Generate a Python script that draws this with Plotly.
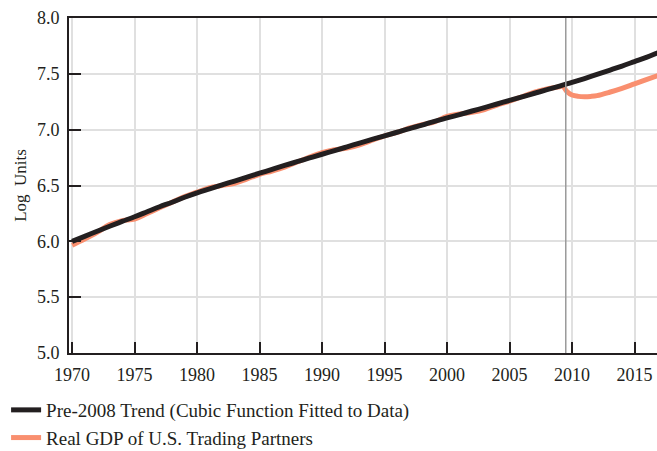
import plotly.graph_objects as go

# annual series, log units
years = list(range(1970, 2018))
trend = [6.00, 6.045, 6.09, 6.135, 6.178, 6.22, 6.265, 6.31, 6.35, 6.395,
         6.435, 6.47, 6.505, 6.54, 6.575, 6.61, 6.645, 6.68, 6.713, 6.747,
         6.78, 6.813, 6.846, 6.88, 6.913, 6.945, 6.977, 7.01, 7.04, 7.075,
         7.105, 7.135, 7.167, 7.198, 7.23, 7.262, 7.294, 7.326, 7.358, 7.39,
         7.423, 7.458, 7.495, 7.532, 7.57, 7.61, 7.65, 7.695]

gdp_years = list(range(1970, 2010)) + [2009.25, 2009.6, 2010, 2010.5, 2011,
                                       2011.5, 2012, 2013, 2014, 2015, 2016, 2017]
gdp = [5.965, 6.02, 6.08, 6.15, 6.185, 6.20, 6.25, 6.30, 6.35, 6.40,
       6.44, 6.48, 6.50, 6.52, 6.56, 6.60, 6.63, 6.665, 6.71, 6.755,
       6.795, 6.82, 6.835, 6.865, 6.905, 6.945, 6.975, 7.015, 7.045, 7.07,
       7.12, 7.14, 7.155, 7.18, 7.22, 7.255, 7.295, 7.335, 7.365, 7.385,
       7.39, 7.34, 7.31, 7.298, 7.295, 7.298, 7.305, 7.335, 7.37, 7.41, 7.45, 7.49]

break_year = 2009.5
x_ticks = list(range(1970, 2020, 5))
y_ticks = [5.0, 5.5, 6.0, 6.5, 7.0, 7.5, 8.0]

SERIF = "Liberation Serif, Times New Roman, serif"

fig = go.Figure()

fig.add_trace(go.Scatter(
    x=gdp_years, y=gdp,
    name='Real GDP of U.S. Trading Partners',
    legendgroup='gdp', legendrank=2,
    mode='lines',
    line=dict(color='#F98F6F', width=5, shape='spline')))

fig.add_trace(go.Scatter(
    x=years, y=trend,
    name='Pre-2008 Trend (Cubic Function Fitted to Data)',
    legendgroup='trend', legendrank=1,
    mode='lines',
    line=dict(color='#231F20', width=5, shape='spline')))

fig.add_vline(x=break_year, line=dict(color='#9a9a9a', width=1.5), layer='above')

fig.update_layout(
    width=657, height=451,
    margin=dict(l=69, r=0, t=18, b=98, autoexpand=False),
    plot_bgcolor='white',
    paper_bgcolor='white',
    font=dict(family=SERIF, size=18, color='#231F20'),
    legend=dict(
        x=-0.107, y=0.133, xanchor='left', yanchor='top',
        yref='container',
        traceorder='grouped',
        tracegroupgap=0,
        font=dict(size=19),
        itemwidth=30,
        bgcolor='rgba(0,0,0,0)'),
    showlegend=True)

fig.update_xaxes(
    range=[1969.75, 2016.8],
    tickvals=x_ticks,
    ticks='inside', ticklen=11, tickwidth=2, tickcolor='#231F20',
    ticklabelstandoff=4,
    showline=True, linecolor='#231F20', linewidth=2, mirror=True,
    showgrid=True, gridcolor='#e0e0e0', gridwidth=1.5,
    zeroline=False)

fig.update_yaxes(
    range=[5.0, 8.0],
    tickvals=y_ticks, tickformat='.1f',
    ticks='inside', ticklen=12, tickwidth=2, tickcolor='#231F20',
    ticklabelstandoff=4,
    showline=True, linecolor='#231F20', linewidth=2,
    showgrid=True, gridcolor='#e0e0e0', gridwidth=1.5,
    zeroline=False,
    title=dict(text='Log  Units', font=dict(size=17), standoff=6))

fig.write_html("out.html", config={'displayModeBar': False},
               post_script="document.body.style.margin='0';")
